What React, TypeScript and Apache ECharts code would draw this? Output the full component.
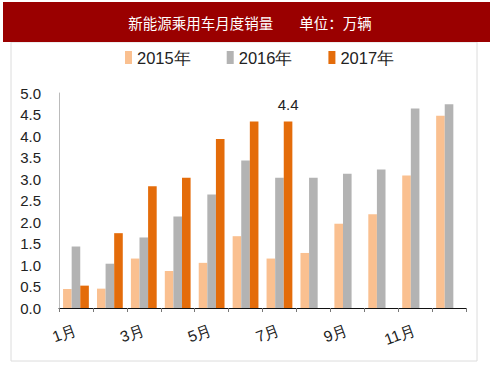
import React, { useEffect, useRef } from "react";
import * as echarts from "echarts";

const months = ["1月", "2月", "3月", "4月", "5月", "6月", "7月", "8月", "9月", "10月", "11月", "12月"];
const sales2015 = [0.44, 0.45, 1.15, 0.86, 1.05, 1.67, 1.15, 1.28, 1.96, 2.18, 3.08, 4.47];
const sales2016 = [1.43, 1.03, 1.64, 2.13, 2.64, 3.43, 3.03, 3.03, 3.12, 3.22, 4.64, 4.74];
const sales2017 = [0.52, 1.74, 2.83, 3.03, 3.93, 4.34, 4.34];
const yTicks = [0, 0.5, 1, 1.5, 2, 2.5, 3, 3.5, 4, 4.5, 5];
const seriesNames = ["2015年", "2016年", "2017年"];
const titleText = "新能源乘用车月度销量        单位：万辆";

export default function App() {
  const ref = useRef<HTMLDivElement>(null);
  useEffect(() => {
    const chart = echarts.init(ref.current!, null, { renderer: "svg" });
    const font = "Liberation Sans, Arial, sans-serif";
    chart.setOption({
      animation: false,
      backgroundColor: "#fff",
      textStyle: { fontFamily: font },
      graphic: [
        {
          type: "rect",
          shape: { x: 11, y: 42, width: 466, height: 319 },
          style: { fill: "none", stroke: "#dcdcdc", lineWidth: 1 },
          z: 0,
        },
        {
          type: "rect",
          shape: { x: 3, y: 2, width: 487, height: 40 },
          style: { fill: "#9a0000" },
          z: 1,
        },
        {
          type: "text",
          x: 250,
          y: 22,
          style: {
            text: titleText,
            fill: "#fff",
            font: "14.5px 'Noto Sans CJK SC', sans-serif",
            textAlign: "center",
            textVerticalAlign: "middle",
          },
          z: 2,
        },
      ],
      legend: {
        data: seriesNames,
        top: 49,
        left: 125,
        padding: 0,
        itemWidth: 7,
        itemHeight: 13,
        itemGap: 36,
        icon: "rect",
        textStyle: { fontSize: 16.5, color: "#222", fontFamily: font },
      },
      grid: { left: 59, right: 37, top: 93, bottom: 70 },
      xAxis: {
        type: "category",
        data: months,
        axisLine: { lineStyle: { color: "#111", width: 1 } },
        axisTick: { show: true, interval: 0, length: 4, lineStyle: { color: "#777" } },
        axisLabel: {
          interval: 1,
          rotate: 20,
          fontSize: 15.5,
          color: "#222",
          margin: 21,
          fontFamily: font,
        },
      },
      yAxis: {
        type: "value",
        min: 0,
        max: 5,
        interval: 0.5,
        splitLine: { show: false },
        axisLine: { show: true, lineStyle: { color: "#bbb" } },
        axisTick: { show: false },
        axisLabel: {
          fontSize: 15,
          color: "#222",
          margin: 18,
          fontFamily: font,
          formatter: (v: number) => (yTicks.includes(v) ? v.toFixed(1) : ""),
        },
      },
      series: [
        {
          name: seriesNames[0],
          type: "bar",
          data: sales2015,
          barWidth: 8.6,
          barGap: "0%",
          itemStyle: { color: "#fac090" },
        },
        {
          name: seriesNames[1],
          type: "bar",
          data: sales2016,
          barWidth: 8.6,
          barGap: "0%",
          itemStyle: { color: "#b3b3b3" },
        },
        {
          name: seriesNames[2],
          type: "bar",
          data: sales2017.map((v, i) =>
            i === 6
              ? {
                  value: v,
                  label: {
                    show: true,
                    position: "top",
                    distance: 9,
                    formatter: "4.4",
                    fontSize: 15,
                    color: "#222",
                    fontFamily: font,
                  },
                }
              : v
          ),
          barWidth: 8.6,
          barGap: "0%",
          itemStyle: { color: "#e46c0a" },
        },
      ],
    });
    return () => chart.dispose();
  }, []);
  return (
    <div
      ref={ref}
      style={{ position: "fixed", left: 0, top: 0, width: 503, height: 378 }}
    />
  );
}
